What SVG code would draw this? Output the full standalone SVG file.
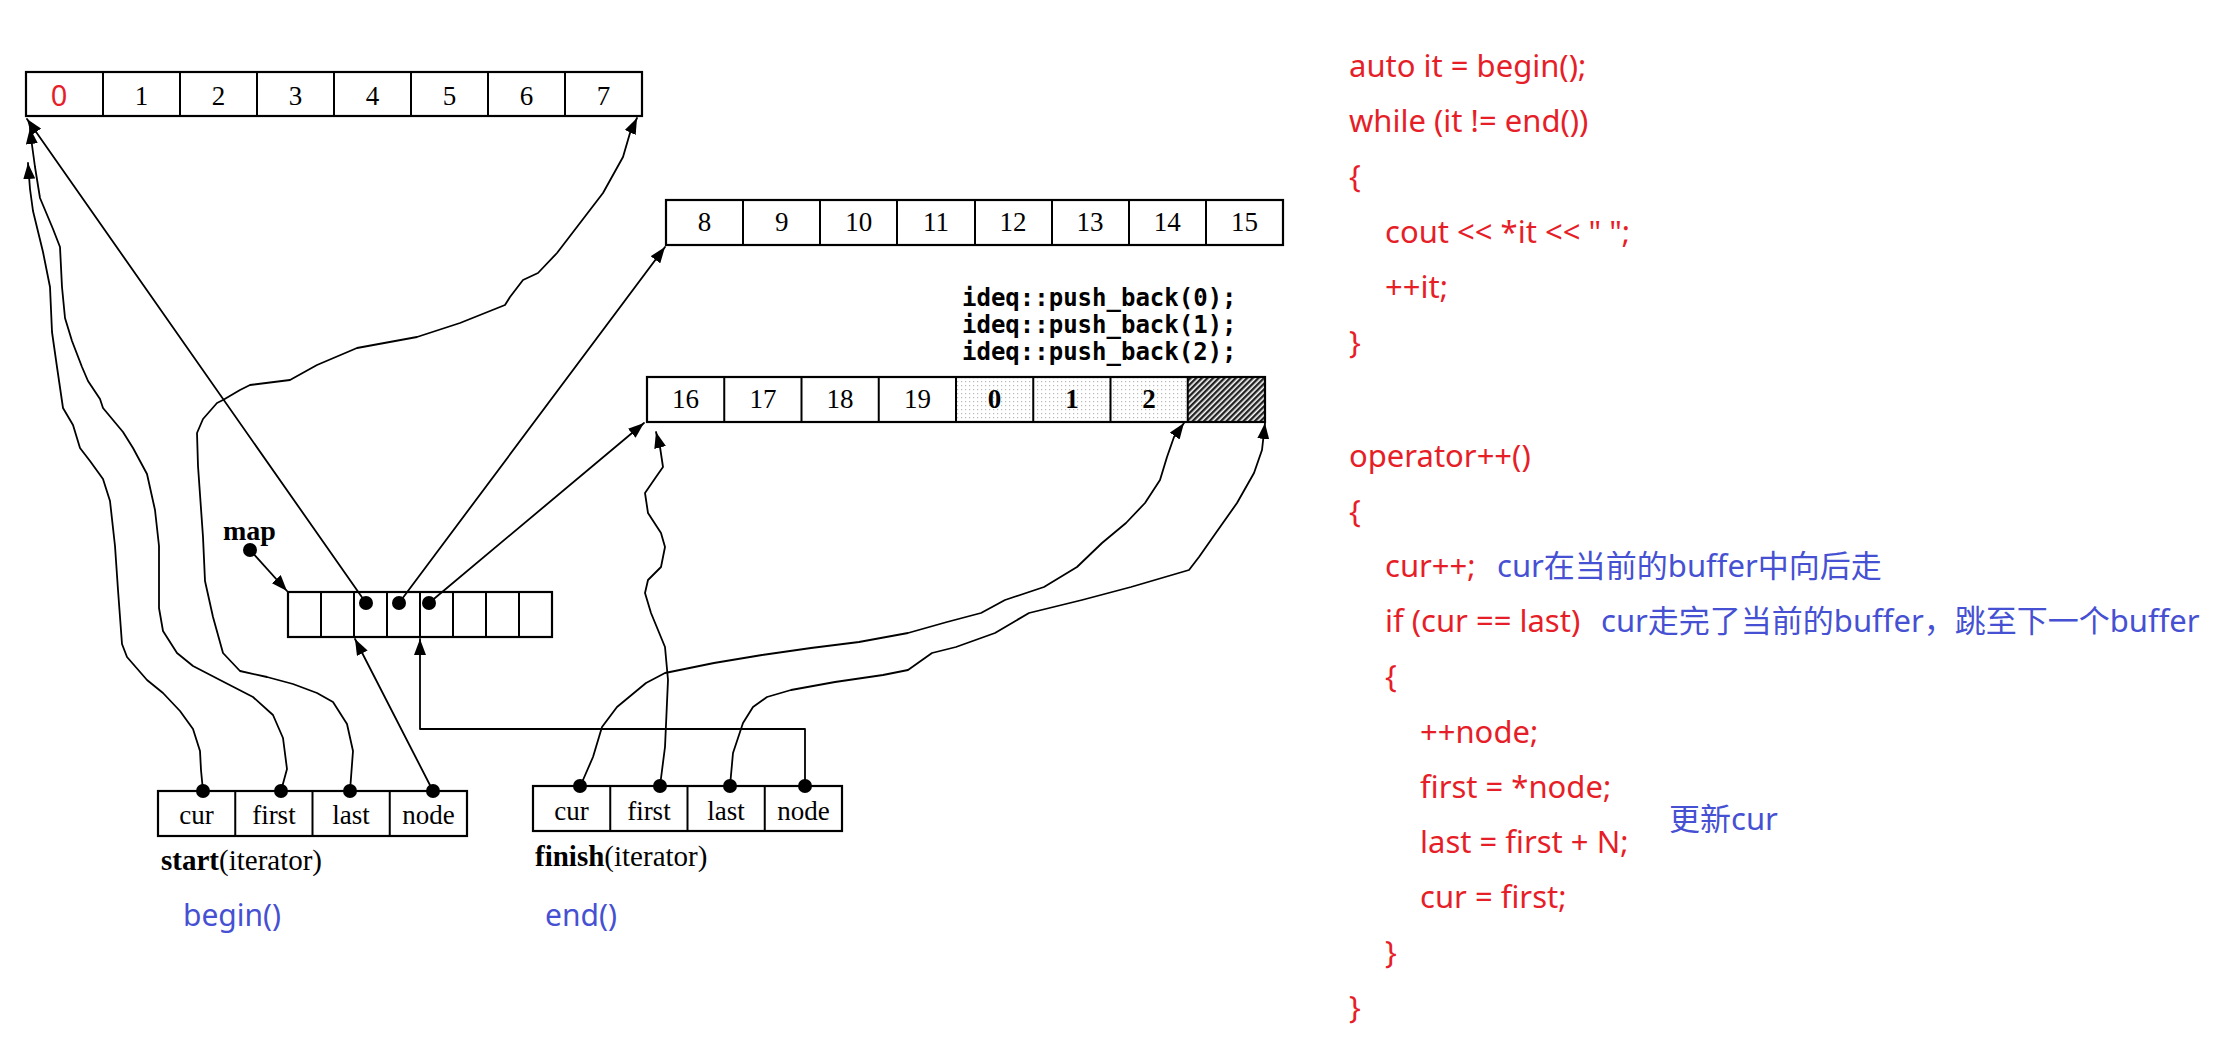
<svg xmlns="http://www.w3.org/2000/svg" width="2228" height="1061" viewBox="0 0 2228 1061">
<defs>
<style>
.box{fill:none;stroke:#000;stroke-width:2.2}
.div{stroke:#000;stroke-width:2}
.num{font-family:"Liberation Serif","Times New Roman",serif;font-size:27px;fill:#000;text-anchor:middle}
.lbl{font-family:"Liberation Serif","Times New Roman",serif;font-size:27px;fill:#000;text-anchor:middle}
.cap{font-family:"Liberation Serif","Times New Roman",serif;font-size:29px;fill:#000}
.mono{font-family:"DejaVu Sans Mono","Liberation Mono",monospace;font-size:24px;font-weight:bold;fill:#000}
.code{font-family:"Noto Sans","Noto Sans CJK SC",sans-serif;font-size:31px;fill:#E61E28}
.note{font-family:"Noto Sans","Noto Sans CJK SC",sans-serif;font-size:31px;fill:#4650D2}
.con{fill:none;stroke:#000;stroke-width:1.8;stroke-linejoin:round;stroke-linecap:round;marker-end:url(#ah)}
.dot{fill:#000}
</style>
<marker id="ah" viewBox="0 0 16 12" refX="16" refY="6" markerWidth="16" markerHeight="12" markerUnits="userSpaceOnUse" orient="auto">
<path d="M0,0 L16,6 L0,12 z" fill="#000"/>
</marker>
<pattern id="hatch" width="4" height="4" patternUnits="userSpaceOnUse" patternTransform="rotate(45)">
<rect width="4" height="4" fill="#fff"/><rect width="2.4" height="4" fill="#222"/>
</pattern>
<pattern id="stip" width="4" height="4" patternUnits="userSpaceOnUse">
<rect width="4" height="4" fill="#fff"/><rect x="1" y="1" width="1.2" height="1.2" fill="#b8b8b8"/>
</pattern>
</defs>
<rect width="2228" height="1061" fill="#fff"/>

<g id="buffer1">
<rect class="box" x="26" y="72" width="616" height="44"/>
<path class="div" d="M103,72V116M180,72V116M257,72V116M334,72V116M411,72V116M488,72V116M565,72V116"/>
<text x="59" y="106" style="font-family:'Noto Sans',sans-serif;font-size:29px;fill:#E61E28" text-anchor="middle">0</text>
<text class="num" x="141.5" y="105">1</text>
<text class="num" x="218.5" y="105">2</text>
<text class="num" x="295.5" y="105">3</text>
<text class="num" x="372.5" y="105">4</text>
<text class="num" x="449.5" y="105">5</text>
<text class="num" x="526.5" y="105">6</text>
<text class="num" x="603.5" y="105">7</text>
</g>

<g id="buffer2">
<rect class="box" x="666" y="200" width="617" height="45"/>
<path class="div" d="M743,200V245M820,200V245M897,200V245M975,200V245M1052,200V245M1129,200V245M1206,200V245"/>
<text class="num" x="704.6" y="231">8</text>
<text class="num" x="781.7" y="231">9</text>
<text class="num" x="858.8" y="231">10</text>
<text class="num" x="936" y="231">11</text>
<text class="num" x="1013" y="231">12</text>
<text class="num" x="1090" y="231">13</text>
<text class="num" x="1167.3" y="231">14</text>
<text class="num" x="1244.4" y="231">15</text>
</g>

<g id="pushback">
<text class="mono" x="962" y="306">ideq::push_back(0);</text>
<text class="mono" x="962" y="333">ideq::push_back(1);</text>
<text class="mono" x="962" y="360">ideq::push_back(2);</text>
</g>

<g id="buffer3">
<rect x="956" y="377" width="231.75" height="45" fill="url(#stip)"/>
<rect x="1187.75" y="377" width="77.25" height="45" fill="url(#hatch)"/>
<rect class="box" x="647" y="377" width="618" height="45"/>
<path class="div" d="M724.25,377V422M801.5,377V422M878.75,377V422M956,377V422M1033.25,377V422M1110.5,377V422M1187.75,377V422"/>
<text class="num" x="685.6" y="408">16</text>
<text class="num" x="762.9" y="408">17</text>
<text class="num" x="840.1" y="408">18</text>
<text class="num" x="917.4" y="408">19</text>
<text class="num" x="994.6" y="408" font-weight="bold">0</text>
<text class="num" x="1071.9" y="408" font-weight="bold">1</text>
<text class="num" x="1149.1" y="408" font-weight="bold">2</text>
</g>

<g id="map">
<text x="223" y="540" style="font-family:'Liberation Serif',serif;font-size:28px;font-weight:bold">map</text>
<circle class="dot" cx="250" cy="550" r="7"/>
<rect class="box" x="288" y="592" width="264" height="45"/>
<path class="div" d="M321,592V637M354,592V637M387,592V637M420,592V637M453,592V637M486,592V637M519,592V637"/>
<circle class="dot" cx="366" cy="603" r="7"/>
<circle class="dot" cx="399" cy="603" r="7"/>
<circle class="dot" cx="429" cy="603" r="7"/>
</g>

<g id="start">
<rect class="box" x="158" y="791" width="309" height="45"/>
<path class="div" d="M235.25,791V836M312.5,791V836M389.75,791V836"/>
<text class="lbl" x="196.6" y="824">cur</text>
<text class="lbl" x="273.9" y="824">first</text>
<text class="lbl" x="351.1" y="824">last</text>
<text class="lbl" x="428.4" y="824">node</text>
<circle class="dot" cx="203" cy="791" r="7"/>
<circle class="dot" cx="281" cy="791" r="7"/>
<circle class="dot" cx="350" cy="791" r="7"/>
<circle class="dot" cx="433" cy="791" r="7"/>
<text class="cap" x="161" y="870"><tspan font-weight="bold">start</tspan>(iterator)</text>
<text class="note" x="183" y="926" style="font-size:30px">begin()</text>
</g>

<g id="finish">
<rect class="box" x="533" y="786" width="309" height="45"/>
<path class="div" d="M610.25,786V831M687.5,786V831M764.75,786V831"/>
<text class="lbl" x="571.6" y="820">cur</text>
<text class="lbl" x="648.9" y="820">first</text>
<text class="lbl" x="726.1" y="820">last</text>
<text class="lbl" x="803.4" y="820">node</text>
<circle class="dot" cx="580" cy="786" r="7"/>
<circle class="dot" cx="660" cy="786" r="7"/>
<circle class="dot" cx="730" cy="786" r="7"/>
<circle class="dot" cx="805" cy="786" r="7"/>
<text class="cap" x="535" y="866"><tspan font-weight="bold">finish</tspan>(iterator)</text>
<text class="note" x="545" y="926" style="font-size:30px">end()</text>
</g>

<g id="connectors">
<path class="con" d="M366,603 L27,119"/>
<path class="con" d="M399,603 L665,247"/>
<path class="con" d="M429,603 L644,423"/>
<path class="con" d="M250,550 L287,591"/>
<path class="con" d="M433,791 L355,639"/>
<path class="con" d="M805,786 V729 H420 V639"/>
<path class="con" d="M203,791 L201,770 L200,751 L193,729 L180,711 L163,693 L147,680 L127,657 L122,644 L118,590 L115,546 L110,501 L103,479 L90,461 L80,448 L73,425 L63,408 L57,367 L52,332 L50,287 L43,252 L33,211 L30,189 L29,176 L28,163"/>
<path class="con" d="M281,791 L287,769 L283,738 L273,715 L253,697 L220,680 L193,666 L177,653 L163,631 L159,608 L159,546 L155,510 L147,474 L133,448 L123,432 L103,408 L100,399 L88,381 L82,367 L72,341 L65,318 L62,287 L60,247 L53,229 L40,198 L35,167 L32,145 L30,128"/>
<path class="con" d="M350,791 L353,751 L347,724 L333,702 L317,693 L293,684 L267,677 L240,671 L223,653 L213,617 L205,581 L203,537 L198,466 L197,433 L203,419 L217,403 L223,400 L240,390 L250,385 L290,380 L317,365 L357,348 L417,337 L460,323 L505,305 L510,297 L523,280 L538,273 L557,253 L603,193 L623,157 L630,133 L637,118"/>
<path class="con" d="M580,786 L583,780 L593,757 L602,727 L617,707 L646,683 L665,673 L714,663 L762,655 L811,648 L859,642 L908,633 L947,622 L981,613 L1005,600 L1044,587 L1077,567 L1102,543 L1126,523 L1145,503 L1160,480 L1167,457 L1174,437 L1184,423"/>
<path class="con" d="M660,786 L665,747 L668,680 L665,647 L651,613 L645,593 L648,580 L661,567 L665,547 L661,533 L648,513 L645,493 L656,477 L663,467 L660,447 L656,432"/>
<path class="con" d="M730,786 L733,753 L743,723 L753,707 L767,697 L791,690 L835,682 L883,675 L908,670 L932,653 L956,647 L995,633 L1029,613 L1082,600 L1131,587 L1189,570 L1199,557 L1213,537 L1237,503 L1254,473 L1262,450 L1265,423"/>
</g>

<g id="code">
<text class="code" x="1349" y="77">auto it = begin();</text>
<text class="code" x="1349" y="132">while (it != end())</text>
<text class="code" x="1349" y="187">{</text>
<text class="code" x="1385" y="243">cout &lt;&lt; *it &lt;&lt; " ";</text>
<text class="code" x="1385" y="298">++it;</text>
<text class="code" x="1349" y="353">}</text>
<text class="code" x="1349" y="467">operator++()</text>
<text class="code" x="1349" y="522">{</text>
<text class="code" x="1385" y="577">cur++;</text>
<text class="note" x="1497" y="577">cur在当前的buffer中向后走</text>
<text class="code" x="1385" y="632">if (cur == last)</text>
<text class="note" x="1601" y="632">cur走完了当前的buffer，跳至下一个buffer</text>
<text class="code" x="1385" y="687">{</text>
<text class="code" x="1420" y="743">++node;</text>
<text class="code" x="1420" y="798">first = *node;</text>
<text class="code" x="1420" y="853">last = first + N;</text>
<text class="note" x="1669" y="830">更新cur</text>
<text class="code" x="1420" y="908">cur = first;</text>
<text class="code" x="1385" y="963">}</text>
<text class="code" x="1349" y="1018">}</text>
</g>
</svg>
